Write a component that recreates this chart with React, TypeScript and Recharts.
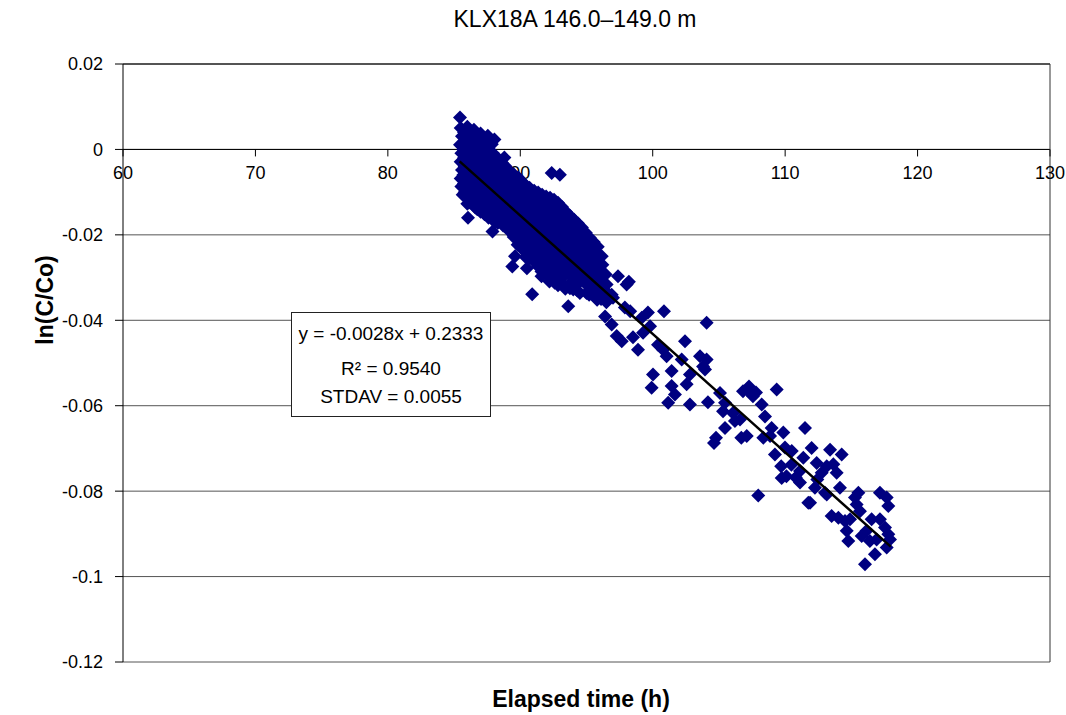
import { ScatterChart, Scatter, XAxis, YAxis, CartesianGrid, ReferenceLine, ReferenceDot } from 'recharts'

const font = '"Liberation Sans", Arial, sans-serif'
const navy = '#000080'

// dense early cluster, 85–97 h
const earlyPts: [number, number][] = [
  [85.45, 0.0075], [85.5, 0.005], [85.6, 0.0031], [85.45, 0.0011], [85.55, -0.0009], [85.5, -0.0029], [85.6, -0.0048], [85.5, -0.0068], [85.55, -0.0087], [85.65, -0.0106],
  [86.0, 0.0053], [86.1, 0.0041], [85.95, 0.0021], [86.05, 0.0001], [86.0, -0.0019], [85.9, -0.0039], [86.1, -0.0058], [86.0, -0.0077], [85.95, -0.0097], [86.05, -0.0116], [86.0, -0.0127], [86.05, -0.016],
  [86.5, 0.0046], [86.55, 0.0025], [86.45, 0.0005], [86.5, -0.0016], [86.6, -0.0036], [86.5, -0.0055], [86.4, -0.0075], [86.55, -0.0096], [86.5, -0.0116], [86.6, -0.0136],
  [87.0, 0.0037], [87.05, 0.0026], [86.95, 0.0006], [87.0, -0.0014], [87.1, -0.0035], [87.0, -0.0055], [86.95, -0.0076], [87.05, -0.0095], [87.0, -0.0116], [87.1, -0.0136], [87.0, -0.0146],
  [87.55, 0.0032], [87.6, 0.0011], [87.5, -0.001], [87.55, -0.0031], [87.65, -0.0052], [87.5, -0.0073], [87.6, -0.0095], [87.55, -0.0117], [87.5, -0.0138], [87.6, -0.016],
  [88.05, 0.0023], [88.1, -0.0019], [88.15, -0.003], [88.05, -0.005], [88.1, -0.0071], [88.2, -0.0092], [88.1, -0.0114], [88.0, -0.0135], [88.15, -0.0157], [88.1, -0.0169], [87.9, -0.0192],
  [88.8, -0.0019], [88.6, -0.0031], [88.65, -0.0052], [88.55, -0.0073], [88.7, -0.0094], [88.6, -0.0115], [88.65, -0.0136], [88.55, -0.0157], [88.7, -0.0178],
  [89.2, -0.0052], [89.25, -0.0062], [89.15, -0.0082], [89.3, -0.0102], [89.2, -0.0122], [89.25, -0.0142], [89.15, -0.0162], [89.3, -0.0182], [89.2, -0.0192],
  [89.85, -0.0066], [89.8, -0.0088], [89.9, -0.011], [89.8, -0.0132], [89.85, -0.0155], [89.75, -0.0178], [89.9, -0.02], [89.8, -0.0223], [89.6, -0.025], [89.4, -0.0274],
  [90.45, -0.0085], [90.4, -0.0096], [90.5, -0.0117], [90.4, -0.0138], [90.45, -0.0158], [90.35, -0.0179], [90.5, -0.02], [90.4, -0.0221], [90.45, -0.0242], [90.4, -0.0252], [90.5, -0.0278],
  [91.05, -0.0097], [91.0, -0.0118], [91.1, -0.0139], [91.0, -0.016], [91.05, -0.0181], [90.95, -0.0202], [91.1, -0.0222], [91.0, -0.0243], [91.05, -0.0263], [90.9, -0.0339],
  [91.65, -0.0106], [91.6, -0.0117], [91.7, -0.0139], [91.6, -0.0161], [91.65, -0.0183], [91.55, -0.0205], [91.7, -0.0227], [91.6, -0.0249], [91.65, -0.0271], [91.6, -0.0286], [91.6, -0.0297],
  [92.37, -0.0055], [92.25, -0.0113], [92.2, -0.0135], [92.3, -0.0157], [92.2, -0.0179], [92.25, -0.0201], [92.15, -0.0223], [92.3, -0.0245], [92.2, -0.0267], [92.1, -0.0289], [92.2, -0.0309],
  [92.99, -0.0059], [92.85, -0.0125], [92.8, -0.0136], [92.9, -0.0157], [92.8, -0.0178], [92.85, -0.0199], [92.75, -0.0221], [92.9, -0.0243], [92.8, -0.0265], [92.85, -0.0286], [92.9, -0.0307], [92.85, -0.0318],
  [93.45, -0.0146], [93.4, -0.0167], [93.5, -0.0188], [93.4, -0.0209], [93.45, -0.023], [93.35, -0.0251], [93.5, -0.0272], [93.4, -0.0293], [93.4, -0.0326],
  [94.05, -0.0164], [94.0, -0.0175], [94.1, -0.0196], [94.0, -0.0217], [94.05, -0.0238], [93.95, -0.0258], [94.1, -0.0278], [94.0, -0.0298], [94.05, -0.0318], [94.0, -0.0328], [93.62, -0.0367],
  [94.65, -0.0183], [94.6, -0.0203], [94.7, -0.0223], [94.6, -0.0243], [94.65, -0.0263], [94.55, -0.0283], [94.7, -0.0303], [94.5, -0.0336],
  [95.25, -0.0207], [95.2, -0.0217], [95.3, -0.0237], [95.2, -0.0257], [95.25, -0.0277], [95.15, -0.0297], [95.3, -0.0316], [95.25, -0.0332], [95.2, -0.034],
  [95.85, -0.0228], [95.8, -0.0248], [95.9, -0.0268], [95.8, -0.0288], [95.85, -0.0308], [95.75, -0.0328], [95.8, -0.0352],
  [96.45, -0.0293], [96.3, -0.0313], [96.5, -0.0333], [96.5, -0.0358],
]

// more readings inside the same cluster, between the ones above
const earlyInner: [number, number][] = [
  [85.75, 0.004], [85.8, 0.002], [85.7, 0.0], [85.75, -0.002], [85.8, -0.004], [85.7, -0.006], [85.75, -0.008], [85.8, -0.01],
  [86.25, 0.0036], [86.3, 0.0016], [86.2, -0.0004], [86.25, -0.0024], [86.3, -0.0044], [86.2, -0.0064], [86.25, -0.0084], [86.3, -0.0104], [86.2, -0.0124],
  [86.75, 0.0034], [86.8, 0.0014], [86.7, -0.0006], [86.75, -0.0026], [86.8, -0.0046], [86.7, -0.0066], [86.75, -0.0086], [86.8, -0.0106], [86.7, -0.0126], [86.75, -0.014],
  [87.3, 0.0024], [87.35, 0.0004], [87.25, -0.0016], [87.3, -0.0036], [87.35, -0.0056], [87.25, -0.0076], [87.3, -0.0096], [87.35, -0.0116], [87.25, -0.0136], [87.3, -0.0152],
  [87.85, 0.0012], [87.9, -0.0008], [87.8, -0.0028], [87.85, -0.0048], [87.9, -0.0068], [87.8, -0.0088], [87.85, -0.0108], [87.9, -0.0128], [87.8, -0.0148], [87.85, -0.0163],
  [88.35, -0.0022], [88.4, -0.0042], [88.3, -0.0062], [88.35, -0.0082], [88.4, -0.0102], [88.3, -0.0122], [88.35, -0.0142], [88.4, -0.0162], [88.3, -0.0172],
  [88.9, -0.004], [88.95, -0.006], [88.85, -0.008], [88.9, -0.01], [88.95, -0.012], [88.85, -0.014], [88.9, -0.016], [88.95, -0.018],
  [89.5, -0.0058], [89.55, -0.0078], [89.45, -0.0098], [89.5, -0.0118], [89.55, -0.0138], [89.45, -0.0158], [89.5, -0.0178], [89.55, -0.0198], [89.5, -0.0205],
  [90.1, -0.0075], [90.15, -0.0095], [90.05, -0.0115], [90.1, -0.0135], [90.15, -0.0155], [90.05, -0.0175], [90.1, -0.0195], [90.15, -0.0215], [90.1, -0.0232],
  [90.7, -0.009], [90.75, -0.011], [90.65, -0.013], [90.7, -0.015], [90.75, -0.017], [90.65, -0.019], [90.7, -0.021], [90.75, -0.023], [90.7, -0.0254],
  [91.35, -0.0101], [91.4, -0.0121], [91.3, -0.0141], [91.35, -0.0161], [91.4, -0.0181], [91.3, -0.0201], [91.35, -0.0221], [91.4, -0.0241], [91.3, -0.0261], [91.35, -0.0274],
  [91.95, -0.011], [92.0, -0.013], [91.9, -0.015], [91.95, -0.017], [92.0, -0.019], [91.9, -0.021], [91.95, -0.023], [92.0, -0.025], [91.9, -0.027], [91.95, -0.029],
  [92.55, -0.0118], [92.6, -0.0138], [92.5, -0.0158], [92.55, -0.0178], [92.6, -0.0198], [92.5, -0.0218], [92.55, -0.0238], [92.6, -0.0258], [92.5, -0.0278], [92.55, -0.0298], [92.6, -0.0312],
  [93.15, -0.0135], [93.2, -0.0155], [93.1, -0.0175], [93.15, -0.0195], [93.2, -0.0215], [93.1, -0.0235], [93.15, -0.0255], [93.2, -0.0275], [93.1, -0.0295], [93.15, -0.0315],
  [93.75, -0.0155], [93.8, -0.0175], [93.7, -0.0195], [93.75, -0.0215], [93.8, -0.0235], [93.7, -0.0255], [93.75, -0.0275], [93.8, -0.0295], [93.7, -0.0315], [93.75, -0.0325],
  [94.35, -0.0173], [94.4, -0.0193], [94.3, -0.0213], [94.35, -0.0233], [94.4, -0.0253], [94.3, -0.0273], [94.35, -0.0293], [94.4, -0.0313], [94.3, -0.033],
  [94.95, -0.0195], [95.0, -0.0215], [94.9, -0.0235], [94.95, -0.0255], [95.0, -0.0275], [94.9, -0.0295], [94.95, -0.0315], [95.0, -0.0336],
  [95.55, -0.0217], [95.6, -0.0237], [95.5, -0.0257], [95.55, -0.0277], [95.6, -0.0297], [95.5, -0.0317], [95.55, -0.0337],
  [96.15, -0.025], [96.2, -0.027], [96.1, -0.029], [96.15, -0.031], [96.2, -0.033], [96.1, -0.035],
]

// middle stretch, 96–106 h
const midPts: [number, number][] = [
  [97.38, -0.0297], [98.03, -0.0316], [96.52, -0.0316], [96.02, -0.0344], [96.9, -0.034], [98.2, -0.031],
  [97.0, -0.0347], [97.9, -0.037], [98.3, -0.0379], [99.64, -0.0382], [100.85, -0.0379], [104.07, -0.0406],
  [96.4, -0.0391], [96.9, -0.041], [99.17, -0.0394], [99.8, -0.0414], [97.28, -0.0437], [97.66, -0.0449],
  [98.51, -0.044], [98.89, -0.0469], [99.27, -0.0429], [100.4, -0.0457], [100.78, -0.0469], [102.44, -0.0449],
  [101.05, -0.0484], [101.43, -0.0519], [102.19, -0.0492], [103.57, -0.0484], [104.07, -0.0492], [103.8, -0.0508],
  [102.81, -0.0527], [100.02, -0.0527], [99.92, -0.0558], [101.43, -0.0554], [101.68, -0.0574], [102.56, -0.055],
  [101.17, -0.0593], [102.81, -0.0597], [104.17, -0.0592], [105.08, -0.057], [103.95, -0.0515], [105.46, -0.0593],
  [105.31, -0.0613],
]

// late tail, 106–118 h
const latePts: [number, number][] = [
  [107.1, -0.0562], [107.57, -0.0578], [107.27, -0.0555], [107.8, -0.0569], [106.82, -0.0566], [109.36, -0.0562],
  [108.23, -0.0597], [106.06, -0.0617], [106.59, -0.0632], [105.46, -0.0652], [106.21, -0.0636], [108.48, -0.0625],
  [108.98, -0.0652], [104.78, -0.0675], [104.63, -0.0687], [106.69, -0.0675], [107.1, -0.0671], [108.35, -0.0675],
  [108.86, -0.0671], [109.86, -0.0663], [111.5, -0.0652], [109.23, -0.0714], [109.99, -0.0698], [110.5, -0.0706],
  [112.0, -0.0699], [113.39, -0.0703], [114.27, -0.0714], [111.37, -0.0722], [110.47, -0.0738], [109.74, -0.0769],
  [109.7, -0.0742], [110.1, -0.0765], [110.8, -0.0768], [111.12, -0.0753], [112.38, -0.0734], [113.14, -0.0742],
  [113.64, -0.0737], [112.76, -0.0757], [113.89, -0.0757], [112.43, -0.0773], [111.12, -0.078], [112.25, -0.0792],
  [113.14, -0.0808], [114.14, -0.0792], [107.97, -0.081], [111.75, -0.0827], [115.27, -0.0815], [115.4, -0.0831],
  [111.88, -0.0827], [113.01, -0.0804], [115.53, -0.0804], [117.16, -0.0804], [117.67, -0.0815], [117.79, -0.0835],
  [113.51, -0.0858], [114.02, -0.0862], [114.52, -0.087], [114.9, -0.0866], [114.65, -0.0893], [114.77, -0.0917],
  [115.78, -0.0905], [116.15, -0.0893], [116.53, -0.0866], [117.16, -0.0866], [117.54, -0.0885], [117.79, -0.0901],
  [117.92, -0.0913], [116.91, -0.0913], [116.4, -0.0917], [116.78, -0.0948], [116.03, -0.0971], [117.67, -0.0932],
  [115.65, -0.0847],
]

const xTicks = [60, 70, 80, 90, 100, 110, 120, 130]
const yTicks = [0.02, 0, -0.02, -0.04, -0.06, -0.08, -0.1, -0.12]

// fitted line as drawn on the chart
const trendX = [85.42, 117.97]
const trendY = [-0.0028, -0.093]

const fitLines = ['y = -0.0028x + 0.2333', 'R² = 0.9540', 'STDAV = 0.0055']

const points = [...earlyPts, ...earlyInner, ...midPts, ...latePts].map(([x, y]) => ({ x, y }))
const trend = trendX.map((x, i) => ({ x, y: trendY[i] }))

const Diamond = (p: any) => {
  const { cx, cy } = p
  if (cx == null || cy == null) return <g />
  const r = 7
  return <path d={`M${cx},${cy - r}L${cx + r},${cy}L${cx},${cy + r}L${cx - r},${cy}Z`} fill={navy} />
}

const xTickMark = (label: number) => (p: any) => (
  <g>
    <line x1={p.cx} y1={p.cy} x2={p.cx} y2={p.cy + 7} stroke="#000" />
    <text x={p.cx} y={p.cy + 30} textAnchor="middle" fontSize={18} fontFamily={font} fill="#000">{label}</text>
  </g>
)

const fmtY = (v: number) => String(Number(v.toFixed(2)))

export default function App() {
  return (
    <div style={{ position: 'absolute', left: 0, top: 0, width: 1066, height: 715, background: '#fff', fontFamily: font, color: '#000' }}>
      <ScatterChart width={1066} height={715} margin={{ top: 64, right: 16, bottom: 53, left: 0 }}>
        <CartesianGrid horizontal vertical={false} stroke="#555" />
        <XAxis type="number" dataKey="x" domain={[60, 130]} ticks={xTicks} hide />
        <YAxis
          type="number" dataKey="y" domain={[-0.12, 0.02]} ticks={yTicks} interval={0} width={123}
          tickFormatter={fmtY} tickSize={8} tickMargin={12}
          tick={{ fontSize: 18, fill: '#000', fontFamily: font }}
          axisLine={{ stroke: '#000' }} tickLine={{ stroke: '#000' }}
        />
        <ReferenceLine y={0.02} stroke="#000" />
        <ReferenceLine y={0} stroke="#000" />
        <ReferenceLine x={130} stroke="#333" />
        {xTicks.map(t => (
          <ReferenceDot key={t} x={t} y={0} r={0} shape={xTickMark(t)} />
        ))}
        <Scatter data={points} shape={Diamond} isAnimationActive={false} />
        <Scatter data={trend} shape={() => <g />} line={{ stroke: '#000', strokeWidth: 2.5 }} isAnimationActive={false} />
      </ScatterChart>

      <div style={{ position: 'absolute', left: 575, top: 8, transform: 'translateX(-50%)', fontSize: 23, lineHeight: '23px', whiteSpace: 'nowrap' }}>
        KLX18A 146.0–149.0 m
      </div>
      <div style={{ position: 'absolute', left: 581, top: 688, transform: 'translateX(-50%)', fontSize: 23, lineHeight: '23px', fontWeight: 'bold', whiteSpace: 'nowrap' }}>
        Elapsed time (h)
      </div>
      <div style={{ position: 'absolute', left: 45, top: 300, transform: 'translate(-50%, -50%) rotate(-90deg)', fontSize: 23, lineHeight: '23px', fontWeight: 'bold', whiteSpace: 'nowrap' }}>
        ln(C/Co)
      </div>

      <div style={{ position: 'absolute', left: 291, top: 312, width: 200, height: 105, boxSizing: 'border-box', border: '1px solid #222', background: '#fff' }}>
        {fitLines.map((s, i) => (
          <div key={s} style={{ position: 'absolute', left: 0, width: '100%', top: [10.5, 46, 73.5][i], textAlign: 'center', fontSize: 19, lineHeight: '19px', whiteSpace: 'nowrap' }}>
            {s}
          </div>
        ))}
      </div>
    </div>
  )
}
